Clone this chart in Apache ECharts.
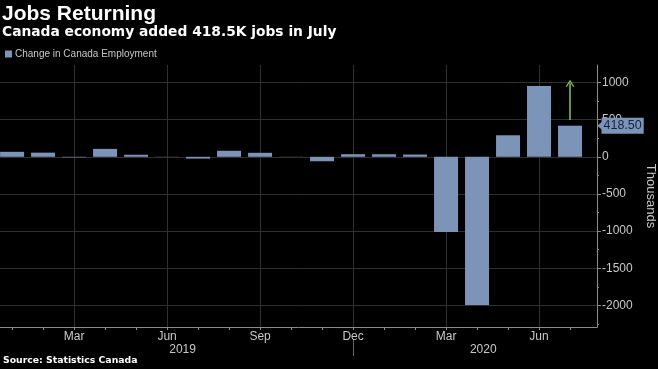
<!DOCTYPE html>
<html><head><meta charset="utf-8">
<script src="https://cdn.jsdelivr.net/npm/echarts@6/dist/echarts.min.js"></script>
<style>html,body{margin:0;padding:0;background:#000}#c{width:658px;height:369px}</style>
</head><body><div id="c"></div>
<script>
const months = ['Jan','Feb','Mar','Apr','May','Jun','Jul','Aug','Sep','Oct','Nov','Dec','Jan','Feb','Mar','Apr','May','Jun','Jul'];
const years = ['2019', '2020'];
const employmentChange = [66.8, 55.9, -7.2, 106.5, 27.7, -2.2, -24.2, 81.1, 53.7, -1.8, -60.0, 35.2, 34.5, 30.3, -1011.2, -1993.8, 289.6, 952.9, 418.5];
const xLabelIdx = [2, 5, 8, 11, 14, 17];
const yearPos = [5.5, 15.2];
const yearSeparator = [11];
const yTicks = [-2000, -1500, -1000, -500, 0, 500, 1000];
const yMinorTicks = [-2250, -1750, -1250, -750, -250, 250, 750];
const latestIdx = 18;
const latest = 418.5;
const arrowFrom = 495, arrowTo = 990;

const xMin = -0.39, xMax = 18.87, yMin = -2290, yMax = 1235;
const axisGrey = '#8c8c8c', textGrey = '#c8c8c8', gridGrey = '#303030', barColor = '#7d94b9';
const F = 'Liberation Sans, Arial, sans-serif';

const chart = echarts.init(document.getElementById('c'));
chart.setOption({
  backgroundColor: '#000',
  animation: false,
  title: [
    {text: 'Jobs Returning', left: 2, top: 3.5, padding: 0,
     textStyle: {color: '#fff', fontSize: 21, fontWeight: 'bold', fontFamily: F}},
    {text: 'Canada economy added 418.5K jobs in July', left: 2, top: 25, padding: 0,
     textStyle: {color: '#fff', fontSize: 13.8, fontWeight: 'bold', fontFamily: 'DejaVu Sans'}},
    {text: 'Source: Statistics Canada', left: 3, top: 356, padding: 0,
     textStyle: {color: '#fff', fontSize: 9.3, fontWeight: 'bold', fontFamily: 'DejaVu Sans'}}
  ],
  legend: {
    data: ['Change in Canada Employment'], left: 5, top: 49, padding: 0,
    icon: 'rect', itemWidth: 7, itemHeight: 7, itemGap: 4,
    textStyle: {color: textGrey, fontSize: 10, fontFamily: F, padding: [0, 0, 0, -2]}
  },
  grid: {left: 0, right: 61, top: 65, bottom: 42, containLabel: false, outerBoundsMode: 'none'},
  xAxis: [
    {type: 'value', min: xMin, max: xMax, position: 'bottom',
     axisLine: {show: true, onZero: false, lineStyle: {color: axisGrey}},
     axisTick: {show: true, customValues: months.map((m, i) => i), length: 3, lineStyle: {color: axisGrey}},
     axisLabel: {customValues: xLabelIdx, formatter: v => months[Math.round(v)], color: textGrey, fontSize: 12, fontFamily: F, margin: 4},
     splitLine: {show: false}},
    {type: 'value', min: xMin, max: xMax, position: 'bottom',
     axisLine: {show: false, onZero: false}, axisTick: {show: false, customValues: xLabelIdx},
     axisLabel: {show: false}, splitLine: {show: true, lineStyle: {color: gridGrey}}},
    {type: 'value', min: xMin, max: xMax, position: 'bottom',
     axisLine: {show: false, onZero: false}, axisTick: {show: false, customValues: yearPos},
     axisLabel: {customValues: yearPos, formatter: v => (v < 11.5 ? years[0] : years[1]), color: textGrey, fontSize: 12, fontFamily: F, margin: 17},
     splitLine: {show: false}},
    {type: 'value', min: xMin, max: xMax, position: 'bottom', offset: 12,
     axisLine: {show: true, onZero: false, lineStyle: {color: 'rgba(0,0,0,0)'}},
     axisTick: {show: true, inside: false, customValues: yearSeparator, length: 17, lineStyle: {color: '#666', width: 1}},
     axisLabel: {show: false, customValues: yearSeparator}, splitLine: {show: false}}
  ],
  yAxis: [
    {type: 'value', position: 'right', min: yMin, max: yMax,
     axisLine: {show: true, onZero: false, lineStyle: {color: axisGrey}},
     axisTick: {show: true, customValues: yTicks, length: 4, lineStyle: {color: axisGrey}},
     axisLabel: {customValues: yTicks, formatter: v => String(v), color: textGrey, fontSize: 12, fontFamily: F, margin: 5},
     splitLine: {show: true, lineStyle: {color: gridGrey}},
     name: 'Thousands', nameLocation: 'middle', nameRotate: -90, nameGap: 46,
     nameTextStyle: {color: textGrey, fontSize: 13, fontFamily: F}},
    {type: 'value', position: 'right', min: yMin, max: yMax,
     axisLine: {show: true, onZero: false, lineStyle: {color: 'rgba(0,0,0,0)'}},
     axisTick: {show: true, customValues: yMinorTicks, length: 2, lineStyle: {color: axisGrey}},
     axisLabel: {show: false}, splitLine: {show: false}}
  ],
  series: [
    {name: 'Change in Canada Employment', type: 'bar', xAxisIndex: 0, yAxisIndex: 0,
     barWidth: 24, itemStyle: {color: barColor},
     data: employmentChange.map((v, i) => [i, v]),
     markLine: {
       silent: true, animation: false,
       symbol: ['none', 'path://M0,10L5,0L10,10L8.4,10L5,3.2L1.6,10Z'], symbolSize: [9, 7],
       lineStyle: {color: '#8cc63f', width: 1.5, type: 'solid'},
       label: {show: false},
       data: [[{coord: [latestIdx, arrowFrom]}, {coord: [latestIdx, arrowTo]}]]
     },
     markPoint: {
       silent: true, animation: false,
       symbol: 'triangle', symbolRotate: 90, symbolSize: [9, 5], symbolOffset: [3, 0],
       itemStyle: {color: barColor},
       label: {show: true, position: 'right', distance: -1, formatter: () => latest.toFixed(2),
               backgroundColor: barColor, color: '#14233f', fontSize: 12.5, fontFamily: F,
               padding: [2, 2, 1, 2]},
       data: [{coord: [xMax, latest]}]
     }}
  ]
});
</script></body></html>
